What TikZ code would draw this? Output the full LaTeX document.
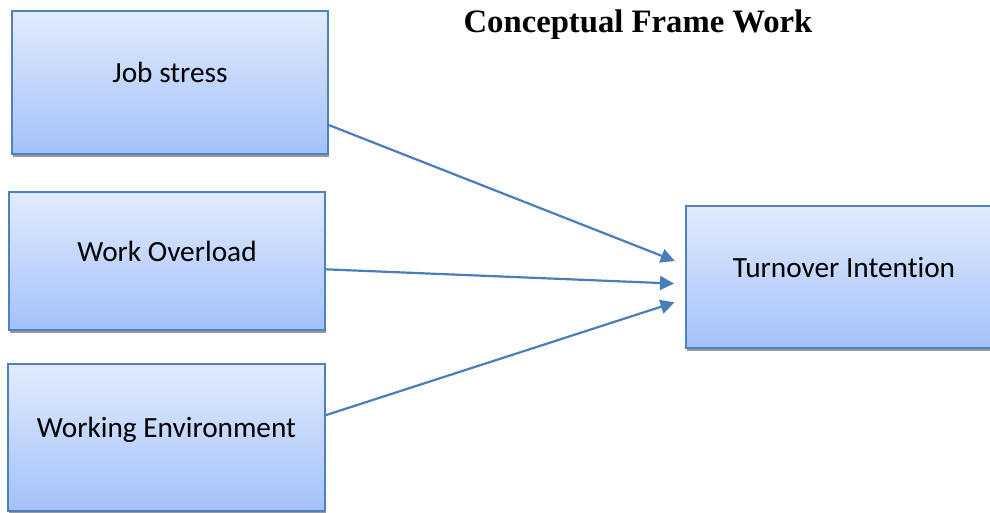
\documentclass[tikz,border=0pt]{standalone}
\usepackage{fontspec}
\setmainfont{Carlito}[Ligatures=NoCommon]
\newfontfamily\headfont{Liberation Serif}
\usetikzlibrary{arrows.meta,shadows}
\definecolor{boxtop}{RGB}{225,235,253}
\definecolor{boxbottom}{RGB}{163,193,249}
\definecolor{boxline}{RGB}{79,129,189}
\definecolor{arrowline}{RGB}{74,126,187}
\tikzset{
  factor/.style={
    rectangle,
    draw=boxline,
    line width=2pt,
    top color=boxtop,
    bottom color=boxbottom,
    general shadow={fill=black!40, shadow xshift=1pt, shadow yshift=-3pt},
    minimum width=316pt,
    text height=10pt,
    text depth=10pt,
    font=\fontsize{29.3}{33}\selectfont
  },
  link/.style={
    -{Triangle[length=14pt,width=14pt]},
    line width=2.2pt,
    draw=arrowline,
    shorten >=11pt
  }
}

\begin{document}
\begin{tikzpicture}[x=1pt,y=-1pt]
  \useasboundingbox (0,0) rectangle (990,512);
  \node[font=\headfont\bfseries\fontsize{32.7}{36}\selectfont] (title) at (638,25) {Conceptual Frame Work};

  \node[factor, minimum height=143pt] (stress) at (170,82.5) {Job stress};
  \node[factor, minimum height=137.5pt] (overload) at (167,261) {Work Overload};
  \node[factor, minimum width=317pt, minimum height=147pt] (environment) at (166.5,437.5) {Working Environment};
  \node[factor, minimum height=142pt] (turnover) at (844,277) {Turnover Intention};

  \draw[link] (stress.-15) -- ([yshift=12pt]turnover.west);
  \draw[link] (overload.-3) -- ([yshift=-7pt]turnover.west);
  \draw[link] (environment.8) -- ([yshift=-22pt]turnover.west);
\end{tikzpicture}
\end{document}
